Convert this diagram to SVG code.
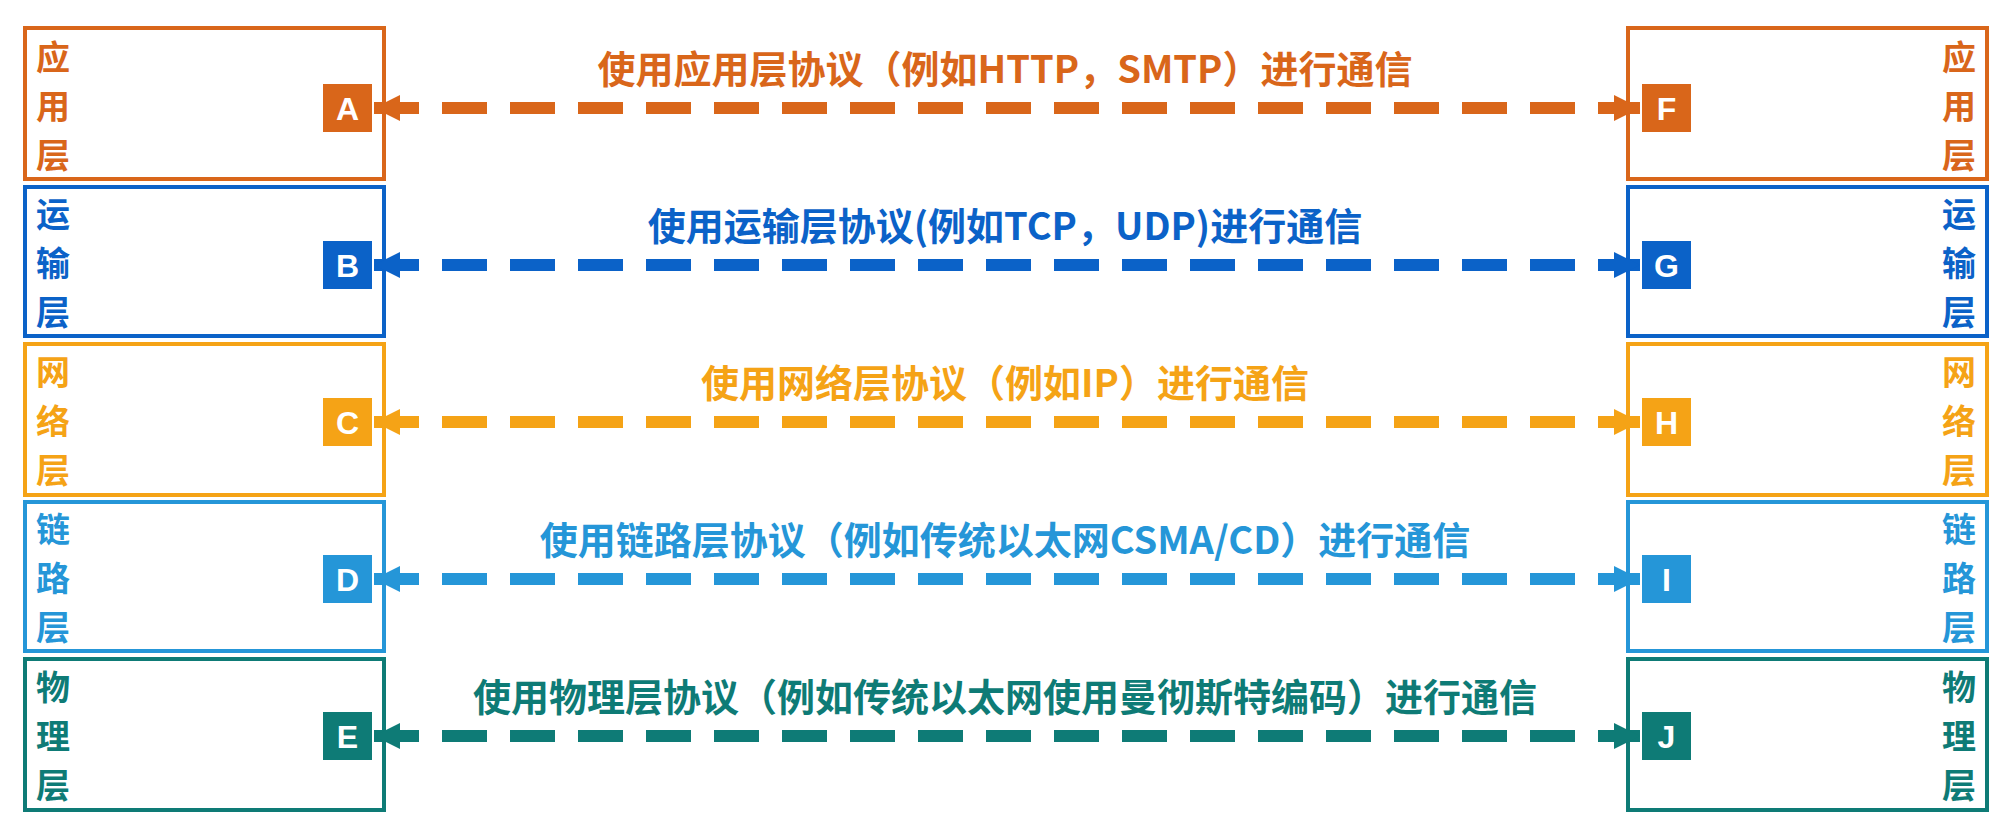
<svg xmlns="http://www.w3.org/2000/svg" width="2003" height="825" viewBox="0 0 2003 825">
<defs>
<style>
.box{fill:#fff;stroke-width:4}
.ch{font-family:"Noto Sans CJK SC","Noto Sans",sans-serif;font-weight:bold;font-size:34px}
.lt{font-family:"Liberation Sans",Arial,sans-serif;font-weight:bold;font-size:32px;fill:#fff;text-anchor:middle}
.lb{font-family:"Noto Sans CJK SC",sans-serif;font-weight:bold;font-size:38px;text-anchor:middle}
.ln{stroke-width:12;stroke-dasharray:45 23;fill:none}
</style>
<marker id="h" viewBox="0 0 10 10" refX="10" refY="5" markerWidth="2.2" markerHeight="2.6" orient="auto-start-reverse" markerUnits="strokeWidth"><path d="M0,0L10,5L0,10Z" fill="context-stroke"/></marker>
</defs>
<rect width="2003" height="825" fill="#fff"/>
<g id="A"><rect class="box" x="25" y="28" width="359" height="151" stroke="#D9661A"/><g class="ch" fill="#D9661A"><text x="36" y="70">应</text><text x="36" y="119">用</text><text x="36" y="168">层</text></g><rect x="323" y="84" width="49" height="48" fill="#D9661A"/><text class="lt" x="347.5" y="120">A</text></g>
<g id="F"><rect class="box" x="1628" y="28" width="359" height="151" stroke="#D9661A"/><g class="ch" fill="#D9661A" text-anchor="end"><text x="1976" y="70">应</text><text x="1976" y="119">用</text><text x="1976" y="168">层</text></g><rect x="1642" y="84" width="49" height="48" fill="#D9661A"/><text class="lt" x="1666.5" y="120">F</text></g>
<g id="B"><rect class="box" x="25" y="187" width="359" height="149" stroke="#0B62C8"/><g class="ch" fill="#0B62C8"><text x="36" y="227">运</text><text x="36" y="276">输</text><text x="36" y="325">层</text></g><rect x="323" y="241" width="49" height="48" fill="#0B62C8"/><text class="lt" x="347.5" y="277">B</text></g>
<g id="G"><rect class="box" x="1628" y="187" width="359" height="149" stroke="#0B62C8"/><g class="ch" fill="#0B62C8" text-anchor="end"><text x="1976" y="227">运</text><text x="1976" y="276">输</text><text x="1976" y="325">层</text></g><rect x="1642" y="241" width="49" height="48" fill="#0B62C8"/><text class="lt" x="1666.5" y="277">G</text></g>
<g id="C"><rect class="box" x="25" y="344" width="359" height="151" stroke="#F5A316"/><g class="ch" fill="#F5A316"><text x="36" y="385">网</text><text x="36" y="434">络</text><text x="36" y="483">层</text></g><rect x="323" y="398" width="49" height="48" fill="#F5A316"/><text class="lt" x="347.5" y="434">C</text></g>
<g id="H"><rect class="box" x="1628" y="344" width="359" height="151" stroke="#F5A316"/><g class="ch" fill="#F5A316" text-anchor="end"><text x="1976" y="385">网</text><text x="1976" y="434">络</text><text x="1976" y="483">层</text></g><rect x="1642" y="398" width="49" height="48" fill="#F5A316"/><text class="lt" x="1666.5" y="434">H</text></g>
<g id="D"><rect class="box" x="25" y="502" width="359" height="149" stroke="#2596D8"/><g class="ch" fill="#2596D8"><text x="36" y="542">链</text><text x="36" y="591">路</text><text x="36" y="640">层</text></g><rect x="323" y="555" width="49" height="48" fill="#2596D8"/><text class="lt" x="347.5" y="591">D</text></g>
<g id="I"><rect class="box" x="1628" y="502" width="359" height="149" stroke="#2596D8"/><g class="ch" fill="#2596D8" text-anchor="end"><text x="1976" y="542">链</text><text x="1976" y="591">路</text><text x="1976" y="640">层</text></g><rect x="1642" y="555" width="49" height="48" fill="#2596D8"/><text class="lt" x="1666.5" y="591">I</text></g>
<g id="E"><rect class="box" x="25" y="659" width="359" height="151" stroke="#0E7B76"/><g class="ch" fill="#0E7B76"><text x="36" y="700">物</text><text x="36" y="749">理</text><text x="36" y="798">层</text></g><rect x="323" y="712" width="49" height="48" fill="#0E7B76"/><text class="lt" x="347.5" y="748">E</text></g>
<g id="J"><rect class="box" x="1628" y="659" width="359" height="151" stroke="#0E7B76"/><g class="ch" fill="#0E7B76" text-anchor="end"><text x="1976" y="700">物</text><text x="1976" y="749">理</text><text x="1976" y="798">层</text></g><rect x="1642" y="712" width="49" height="48" fill="#0E7B76"/><text class="lt" x="1666.5" y="748">J</text></g>
<g id="connectors">
<path class="ln" d="M374,108H1640" stroke="#D9661A" marker-start="url(#h)" marker-end="url(#h)"/>
<path class="ln" d="M374,265H1640" stroke="#0B62C8" marker-start="url(#h)" marker-end="url(#h)"/>
<path class="ln" d="M374,422H1640" stroke="#F5A316" marker-start="url(#h)" marker-end="url(#h)"/>
<path class="ln" d="M374,579H1640" stroke="#2596D8" marker-start="url(#h)" marker-end="url(#h)"/>
<path class="ln" d="M374,736H1640" stroke="#0E7B76" marker-start="url(#h)" marker-end="url(#h)"/>
<text class="lb" x="1005" y="83" fill="#D9661A">使用应用层协议（例如HTTP，SMTP）进行通信</text>
<text class="lb" x="1005" y="240" fill="#0B62C8">使用运输层协议(例如TCP，UDP)进行通信</text>
<text class="lb" x="1005" y="397" fill="#F5A316">使用网络层协议（例如IP）进行通信</text>
<text class="lb" x="1005" y="554" fill="#2596D8">使用链路层协议（例如传统以太网CSMA/CD）进行通信</text>
<text class="lb" x="1005" y="711" fill="#0E7B76">使用物理层协议（例如传统以太网使用曼彻斯特编码）进行通信</text>
</g>
</svg>
